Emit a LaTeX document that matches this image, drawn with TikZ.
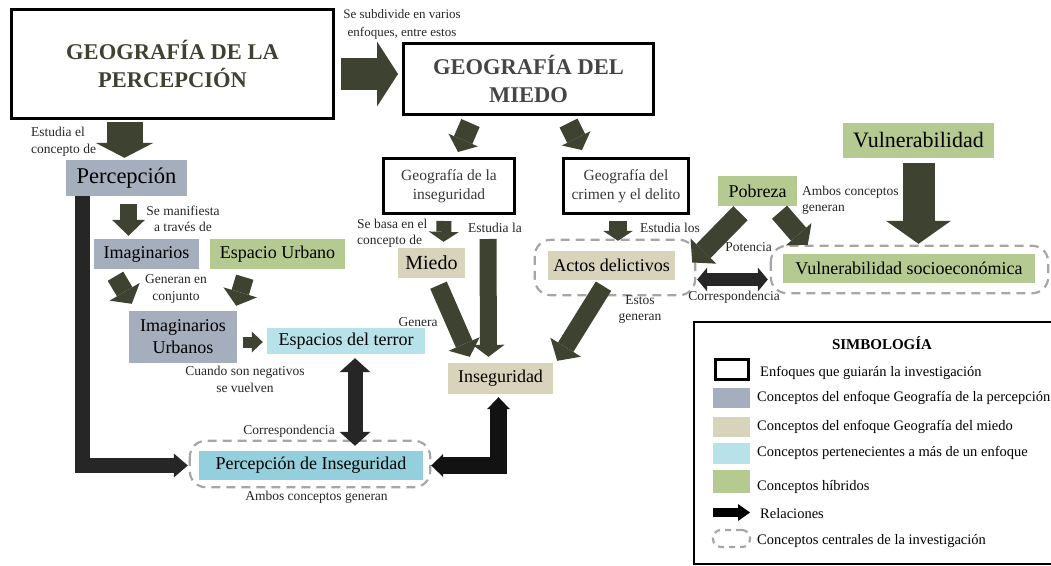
\documentclass[tikz,border=0pt]{standalone}
\usepackage{fontspec}
\setmainfont{Liberation Serif}
\usetikzlibrary{arrows.meta,calc}

\definecolor{olv}{HTML}{3E4230}
\definecolor{ttl}{HTML}{3F4233}
\definecolor{bgris}{HTML}{A5AEBD}
\definecolor{beige}{HTML}{D8D4BC}
\definecolor{celeste}{HTML}{B8E2E9}
\definecolor{turq}{HTML}{93CFDC}
\definecolor{verde}{HTML}{B5CA90}
\definecolor{osc}{HTML}{262626}
\definecolor{punt}{HTML}{A6A6A6}

\begin{document}
\begin{tikzpicture}[x=1pt, y=-1pt,
    box/.style={inner sep=0pt, align=center, font=\fontsize{18}{22}\selectfont},
    enf/.style={draw, line width=3pt, inner sep=0pt, align=center},
    lbl/.style={inner sep=0pt, align=center, text=black!85, font=\fontsize{13.5}{16.5}\selectfont},
    ley/.style={inner sep=0pt, anchor=west, font=\fontsize{14.5}{17}\selectfont},
    central/.style={draw=punt, line width=2.2pt, dash pattern=on 9pt off 6pt, rounded corners=16pt},
    arr/.style n args={3}{draw=olv, line width=#1pt, -{Triangle[width=#2pt,length=#3pt,line width=0pt]}},
    darr/.style n args={3}{draw=osc, line width=#1pt, {Triangle[width=#2pt,length=#3pt,line width=0pt]}-{Triangle[width=#2pt,length=#3pt,line width=0pt]}}]

    \useasboundingbox (0,0) rectangle (1051,565);
    \clip (0,0) rectangle (1051,565);

    % enfoques
    \node[enf, minimum width=322pt, minimum height=109pt, text=ttl, font=\bfseries\fontsize{22.5}{28}\selectfont] (gper) at (172.5,64) {GEOGRAFÍA DE LA\\PERCEPCIÓN};
    \node[enf, minimum width=250pt, minimum height=71pt, text=black!73, font=\bfseries\fontsize{22.5}{28}\selectfont] (gmie) at (528.5,79) {GEOGRAFÍA DEL\\MIEDO};
    \node[enf, minimum width=131pt, minimum height=55pt, text=black!78, font=\fontsize{15.5}{19}\selectfont] (gins) at (449,186) {Geografía de la\\inseguridad};
    \node[enf, minimum width=125pt, minimum height=55pt, text=black!78, font=\fontsize{15.5}{19}\selectfont] (gcri) at (626,186) {Geografía del\\crimen y el delito};

    % conceptos
    \node[box, fill=bgris, minimum width=121pt, minimum height=36pt, font=\fontsize{22.5}{26}\selectfont] (perc) at (126.5,178) {Percepción};
    \node[box, fill=bgris, minimum width=105pt, minimum height=30pt] (imag) at (146.5,254) {Imaginarios};
    \node[box, fill=verde, minimum width=135pt, minimum height=30pt] (urb) at (277.5,254) {Espacio Urbano};
    \node[box, fill=bgris, minimum width=108pt, minimum height=52pt] (imur) at (183,337) {Imaginarios\\Urbanos};
    \node[box, fill=celeste, minimum width=158pt, minimum height=26pt] (terr) at (346,341) {Espacios del terror};
    \node[box, fill=turq, minimum width=224pt, minimum height=29pt] (pins) at (311,465.5) {Percepción de Inseguridad};
    \node[box, fill=beige, minimum width=67pt, minimum height=30pt, font=\fontsize{20}{24}\selectfont] (mied) at (431.5,263) {Miedo};
    \node[box, fill=beige, minimum width=105pt, minimum height=31pt] (inse) at (500.5,378.5) {Inseguridad};
    \node[box, fill=beige, minimum width=127pt, minimum height=29pt] (acto) at (611.5,265.5) {Actos delictivos};
    \node[box, fill=verde, minimum width=79pt, minimum height=30pt] (pobr) at (757.5,191) {Pobreza};
    \node[box, fill=verde, minimum width=151pt, minimum height=35pt, font=\fontsize{22}{26}\selectfont] (vuln) at (918.5,140.5) {Vulnerabilidad};
    \node[box, fill=verde, minimum width=252pt, minimum height=29pt] (vsoc) at (909,268.5) {Vulnerabilidad socioeconómica};

    \draw[central] ($(pins.north west)+(-9,-10)$) rectangle ($(pins.south east)+(7,7)$);
    \draw[central] ($(acto.north west)+(-13,-11)$) rectangle ($(acto.south east)+(20,15)$);
    \draw[central] ($(vsoc.north west)+(-12,-8)$) rectangle ($(vsoc.south east)+(13,10)$);

    % relaciones
    \draw[arr={32}{65}{21}] ($(gper.east)+(6,10)$) -- ($(gmie.west)+(-4,-5)$);
    \draw[arr={36}{58}{15}] ($(gper.south -| perc.north)+(-2,2)$) -- ($(perc.north)+(-2,-2)$);
    \draw[osc, line width=15pt, line join=miter, -{Triangle[width=24pt,length=14pt,line width=0pt]}] ($(perc.south west)+(17,0)$) |- ($(pins.west)+(-11,0)$);
    \draw[arr={17}{33}{16}] ($(perc.south)+(2,8)$) -- ($(imag.north)+(-18,-3)$);
    \draw[arr={18}{35}{14}] ($(imag.south)+(-31,7)$) -- ($(imur.north west)+(3,-7)$);
    \draw[arr={18}{35}{14}] ($(urb.south west)+(35,8)$) -- ($(imur.north east)+(-1,-5)$);
    \draw[arr={11}{21}{11}] ($(imur.east)+(6,5)$) -- ($(terr.west)+(-4,1)$);
    \draw[darr={15}{31}{14}] ($(terr.south)+(9,4)$) -- ($(terr.south |- pins.north)+(9,-5)$);
    \draw[arr={20}{32}{13}] ($(gmie.south)+(-58,7)$) -- ($(gins.north)+(9,-5)$);
    \draw[arr={20}{32}{13}] ($(gmie.south)+(40,7)$) -- ($(gcri.north)+(-44,-7)$);
    \draw[arr={15}{30}{10}] ($(gins.south)+(-5,6)$) -- ($(mied.north)+(12,-6)$);
    \draw[arr={17}{32}{12}] ($(gins.south)+(39,24)$) -- ($(inse.north)+(-12,-6)$);
    \draw[arr={18}{34}{14}] ($(mied.south)+(7,7)$) -- ($(inse.north west)+(22,-6)$);
    \draw[arr={18}{30}{10}] ($(gcri.south)+(-8,6)$) -- ($(acto.north)+(6.5,-10)$);
    \draw[arr={18}{36}{16}] ($(acto.south)+(-8,6)$) -- ($(inse.north east)+(4,-2)$);
    \draw[arr={20}{36}{16}] ($(pobr.south)+(-17,7)$) -- ($(acto.east)+(17,-3)$);
    \draw[arr={20}{34}{14}] ($(pobr.south)+(22,6)$) -- ($(vsoc.north west)+(25,-9)$);
    \draw[arr={32}{65}{23}] ($(vuln.south)+(0,5)$) -- ($(vuln.south |- vsoc.north)+(0,-10)$);
    \draw[darr={13}{24}{10}] ($(acto.east)+(22,14)$) -- ($(vsoc.west)+(-15,11)$);
    \draw[darr={17}{23}{12}, draw=black!93, line join=miter] ($(inse.south)+(-2,3)$) |- ($(pins.east)+(8,0)$);

    % etiquetas
    \node[lbl, font=\fontsize{13}{18}\selectfont] (tsub) at (402,24) {Se subdivide en varios\\enfoques, entre estos};
    \node[lbl, anchor=west, align=left] (test) at (31,141.5) {Estudia el\\concepto de};
    \node[lbl] (tman) at (183,219) {Se manifiesta\\a través de};
    \node[lbl] (tgen) at (176,289) {Generan en\\conjunto};
    \node[lbl] (tneg) at (245,379.5) {Cuando son negativos\\se vuelven};
    \node[lbl] (tcor) at (289,431) {Correspondencia};
    \node[lbl] (tamb) at (316.5,497) {Ambos conceptos generan};
    \node[lbl] (tgra) at (418,322) {Genera};
    \node[lbl, anchor=west, align=left] (tbas) at (357,233) {Se basa en el\\concepto de};
    \node[lbl] (tela) at (495,228) {Estudia la};
    \node[lbl] (telo) at (670,228) {Estudia los};
    \node[lbl] (tsto) at (640,309.5) {Estos\\generan};
    \node[lbl] (tpot) at (748.5,247) {Potencia};
    \node[lbl, anchor=west, align=left] (tam2) at (802,200.5) {Ambos conceptos\\generan};
    \node[lbl] (tco2) at (734,297) {Correspondencia};

    % simbologia
    \draw[line width=2pt] (694,322) rectangle (1070,564);
    \node[inner sep=0pt, font=\bfseries\fontsize{15}{18}\selectfont] (simb) at (882,343) {SIMBOLOGÍA};
    \node[draw, line width=3pt, minimum width=33pt, minimum height=20pt, inner sep=0pt] (s1) at (732,369) {};
    \node[ley] (l1) at (760,373) {Enfoques que guiarán la investigación};
    \node[fill=bgris, minimum width=37pt, minimum height=20pt, inner sep=0pt] (s2) at (731.5,398) {};
    \node[ley] (l2) at (757,398) {Conceptos del enfoque Geografía de la percepción};
    \node[fill=beige, minimum width=37pt, minimum height=20pt, inner sep=0pt] (s3) at (731.5,427) {};
    \node[ley] (l3) at (757,427) {Conceptos del enfoque Geografía del miedo};
    \node[fill=celeste, minimum width=37pt, minimum height=21pt, inner sep=0pt] (s4) at (731.5,453.5) {};
    \node[ley] (l4) at (757,453) {Conceptos pertenecientes a más de un enfoque};
    \node[fill=verde, minimum width=37pt, minimum height=23pt, inner sep=0pt] (s5) at (731.5,481.5) {};
    \node[ley] (l5) at (757,487) {Conceptos híbridos};
    \coordinate (r0) at (713,512.5);
    \coordinate (r1) at (750,512.5);
    \draw[line width=9pt, -{Triangle[width=17pt,length=12pt,line width=0pt]}] (r0) -- (r1);
    \node[ley] (l6) at (760,514) {Relaciones};
    \node[central, minimum width=37pt, minimum height=17pt, rounded corners=8pt, dash pattern=on 6pt off 5pt, inner sep=0pt] (s7) at (731.5,538.5) {};
    \node[ley] (l7) at (757,541) {Conceptos centrales de la investigación};
\end{tikzpicture}
\end{document}
